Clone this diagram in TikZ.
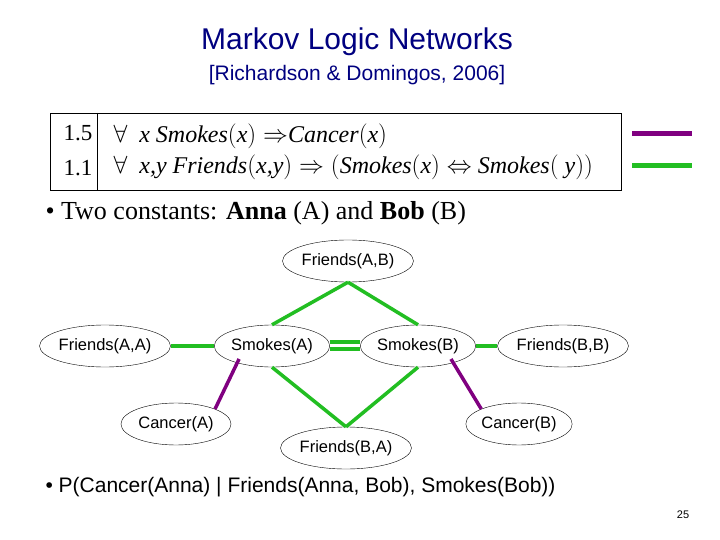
\documentclass[tikz,border=0pt]{standalone}
\usepackage{fontspec}
\setmainfont{Liberation Serif}
\newfontfamily\arial{Liberation Sans}
\definecolor{mgreen}{RGB}{34,190,34}
\definecolor{mpurple}{RGB}{128,0,128}
\begin{document}
\begin{tikzpicture}[x=1pt,y=-1pt,
  ell/.style={ellipse,draw,inner sep=0pt,minimum height=42pt,font=\arial\fontsize{16.5}{18}\selectfont},
  gl/.style={mgreen,line width=3.5pt},
  pl/.style={mpurple,line width=3.5pt}]
\usetikzlibrary{shapes.geometric}
\useasboundingbox[fill=white] (0,0) rectangle (720,540);
\node (t) at (357,42) {\arial\fontsize{30}{32}\selectfont\color{blue!50!black}Markov Logic Networks};
\node (s) at (357,75) {\arial\fontsize{21}{23}\selectfont\color{blue!50!black}[Richardson \& Domingos, 2006]};
\draw[thick] (50,113) rectangle (621,190);
\draw[thick] (97,113) -- (97,190);
\node[anchor=center] (w1) at (78,133) {\fontsize{23}{24}\selectfont 1.5};
\node[anchor=center] (w2) at (78,168) {\fontsize{23}{24}\selectfont 1.1};
\node[anchor=west] (f1) at (110,136) {\fontsize{24}{26}\selectfont $\forall$\ \ \textit{x Smokes}$($\textit{x}$)\Rightarrow$\textit{Cancer}$($\textit{x}$)$};
\node[anchor=west] (f2) at (110,167) {\fontsize{24}{26}\selectfont $\forall$\ \ \textit{x,y Friends}$($\textit{x,y}$)\Rightarrow\big($\textit{Smokes}$($\textit{x}$)\Leftrightarrow$ \textit{Smokes}$($\textit{ y}$)\big)$};
\coordinate (p1) at (632,134); \coordinate (p2) at (692,134);
\coordinate (g1) at (632,166); \coordinate (g2) at (692,166);
\draw[mpurple,line width=5pt] (p1) -- (p2);
\draw[mgreen,line width=5pt] (g1) -- (g2);
\node[anchor=west] (b1) at (42,213) {\fontsize{26}{28}\selectfont \textbullet\ Two constants: \textbf{Anna} (A) and \textbf{Bob} (B)};
\node[ell,minimum width=125pt] (fab) at (348,261) {Friends(A,B)};
\node[ell,minimum width=125pt] (faa) at (105,346) {Friends(A,A)};
\node[ell,minimum width=106pt] (sa) at (272,346) {Smokes(A)};
\node[ell,minimum width=106pt] (sb) at (418,346) {Smokes(B)};
\node[ell,minimum width=122pt] (fbb) at (563,346) {Friends(B,B)};
\node[ell,minimum width=110pt] (ca) at (176,424) {Cancer(A)};
\node[ell,minimum width=104pt] (cb) at (519,424) {Cancer(B)};
\node[ell,minimum width=128pt] (fba) at (346,448) {Friends(B,A)};
\draw[gl] (fab.south) -- (sa.north);
\draw[gl] (fab.south) -- (sb.north);
\draw[gl] (fba.north) -- (sa.south);
\draw[gl] (fba.north) -- (sb.south);
\draw[gl] (faa) -- (sa);
\draw[gl] (sb) -- (fbb);
\draw[gl] ([yshift=-3pt]sa.east) -- ([yshift=-3pt]sb.west);
\draw[gl] ([yshift=4pt]sa.east) -- ([yshift=4pt]sb.west);
\draw[pl] (sa.south west) ++(8,-2) -- (ca.north east);
\draw[pl] (sb.south east) ++(-8,-2) -- (cb.north west);
\node[anchor=west] (b2) at (42,487) {\arial\fontsize{21}{23}\selectfont \textbullet\ P(Cancer(Anna) | Friends(Anna, Bob), Smokes(Bob))};
\node (n) at (683,515) {\arial\fontsize{11}{12}\selectfont 25};
\end{tikzpicture}
\end{document}
